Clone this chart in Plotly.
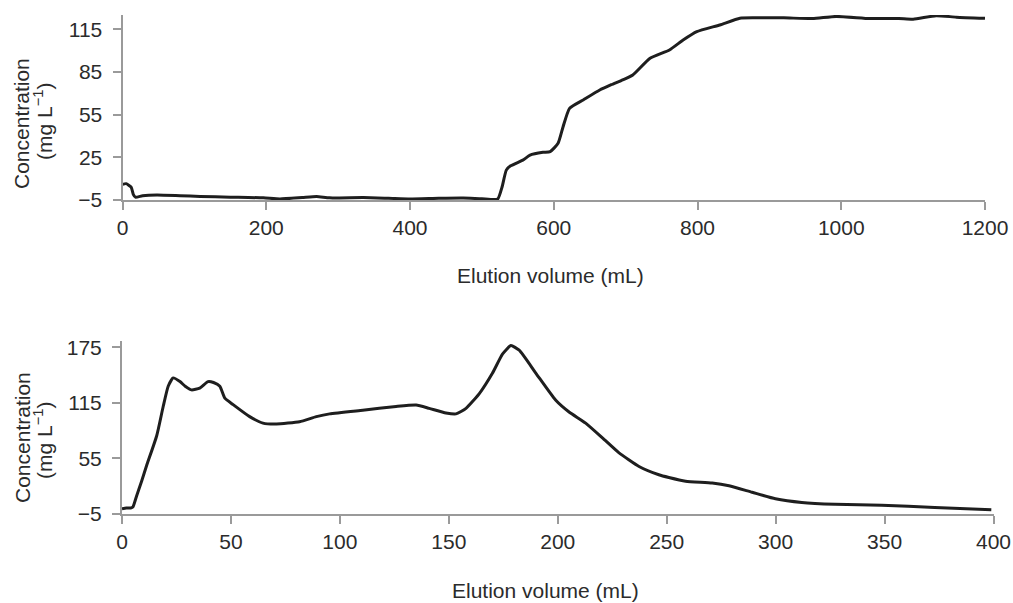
import plotly.graph_objects as go

# Top panel: elution volume (mL) vs concentration (mg/L)
top_x = [0, 5, 12, 15, 18, 28, 48, 80, 108, 150, 196, 219, 250, 270, 288, 335, 370, 400,
         440, 474, 500, 522, 528, 534, 540, 557, 567, 585, 595, 606, 613, 622, 641, 664,
         680, 696, 710, 734, 761, 780, 799, 831, 859, 880, 920, 960, 993, 1040, 1080,
         1100, 1132, 1160, 1200]
top_y = [6, 6.5, 4, -1, -3, -2, -1.5, -2, -2.5, -3, -3.5, -4.3, -3.3, -2.6, -3.5, -3.3,
         -3.8, -4.3, -3.8, -3.6, -4.1, -4.3, 4, 16, 19, 23, 26.5, 28.5, 29, 34.8, 46.5,
         59.4, 65.3, 72.3, 76, 79.4, 82.8, 94.6, 100.4, 107.4, 113.3, 118, 122.7, 123,
         123, 122.5, 124, 122.5, 122.5, 122, 124.5, 123.5, 122.7]

# Bottom panel
bot_x = [0, 2, 4, 5, 6.7, 9, 11.3, 15.9, 18.9, 21.2, 23.5, 26.6, 29, 31.9, 35.7, 39.5,
         42, 44.9, 47.2, 51, 58.6, 64.7, 70.9, 81.5, 89.2, 95.3, 110.5, 125.8, 135, 141,
         148.7, 153.3, 157.9, 164, 170, 174.7, 178.5, 182.3, 190, 199, 205.2, 212.8,
         220.5, 228, 237.3, 246.4, 251, 258.7, 270.9, 278.6, 289.2, 299.9, 312, 327.3,
         348.7, 373, 399]
bot_y = [0, 1, 1, 2, 14, 30, 47, 79, 111, 133, 142, 138, 133, 129, 131, 138, 137, 133,
         120, 113, 100, 93, 92, 94.5, 100, 103, 107, 111, 112.5, 109, 104, 103, 109, 125,
         147, 168, 177, 172, 147, 118, 105, 93, 77, 61, 46, 37, 34, 30, 28, 25, 18, 11,
         7, 5, 4, 1.5, -1]

top_xticks = [0, 200, 400, 600, 800, 1000, 1200]
top_yticks = [-5, 25, 55, 85, 115]
bot_xticks = [0, 50, 100, 150, 200, 250, 300, 350, 400]
bot_yticks = [-5, 55, 115, 175]

W, H = 1013, 603
FONT = "Liberation Sans, Arial, sans-serif"
FS = 21
TXT = "#2b2b2b"
AX = "#9a9a9a"
LINE = "#1e1e1e"

fig = go.Figure()
fig.add_trace(go.Scatter(x=top_x, y=top_y, mode="lines", xaxis="x", yaxis="y",
                         line=dict(color=LINE, width=3, shape="spline", smoothing=0.5),
                         showlegend=False, hoverinfo="skip"))
fig.add_trace(go.Scatter(x=bot_x, y=bot_y, mode="lines", xaxis="x2", yaxis="y2",
                         line=dict(color=LINE, width=3, shape="spline", smoothing=0.5),
                         showlegend=False, hoverinfo="skip"))

def px_x(p):
    return p / W

def px_y(p):
    return 1 - p / H

axis_common = dict(showline=True, linecolor=AX, linewidth=2, showgrid=False, zeroline=False,
                   automargin=False, ticks="outside", tickcolor=AX, tickwidth=2, ticklen=8,
                   tickfont=dict(family=FONT, size=FS, color=TXT))

fig.update_layout(
    width=W, height=H, autosize=False,
    margin=dict(l=0, r=0, t=0, b=0, pad=0),
    paper_bgcolor="white", plot_bgcolor="white",
    xaxis=dict(domain=[px_x(122.5), px_x(985)], range=[0, 1200], tickvals=top_xticks,
               anchor="y", **axis_common),
    yaxis=dict(domain=[px_y(200), px_y(15)], range=[-5, 125], tickvals=top_yticks,
               anchor="x", ticklabelstandoff=6, **axis_common),
    xaxis2=dict(domain=[px_x(122), px_x(993.5)], range=[0, 400], tickvals=bot_xticks,
                anchor="y2", **axis_common),
    yaxis2=dict(domain=[px_y(513.5), px_y(341)], range=[-5, 182], tickvals=bot_yticks,
                anchor="x2", ticklabelstandoff=6, **axis_common),
)

ann_font = dict(family=FONT, size=FS, color=TXT)
annotations = [
    dict(text="Concentration", x=px_x(22), y=px_y(124), textangle=-90),
    dict(text="(mg L<sup>\u22121</sup>)", x=px_x(43), y=px_y(122), textangle=-90),
    dict(text="Concentration", x=px_x(22), y=px_y(438), textangle=-90),
    dict(text="(mg L<sup>\u22121</sup>)", x=px_x(43), y=px_y(441), textangle=-90),
    dict(text="Elution volume (mL)", x=px_x(550), y=px_y(275), textangle=0),
    dict(text="Elution volume (mL)", x=px_x(545), y=px_y(590), textangle=0),
]
for a in annotations:
    fig.add_annotation(xref="paper", yref="paper", xanchor="center", yanchor="middle",
                       showarrow=False, font=ann_font, **a)

fig.write_html(
    "out.html",
    config={"displayModeBar": False},
    post_script=(
        "var h=document.documentElement, b=document.body;"
        "h.style.margin='0';h.style.padding='0';h.style.overflow='hidden';"
        "b.style.margin='0';b.style.padding='0';b.style.overflow='hidden';"
    ),
)
